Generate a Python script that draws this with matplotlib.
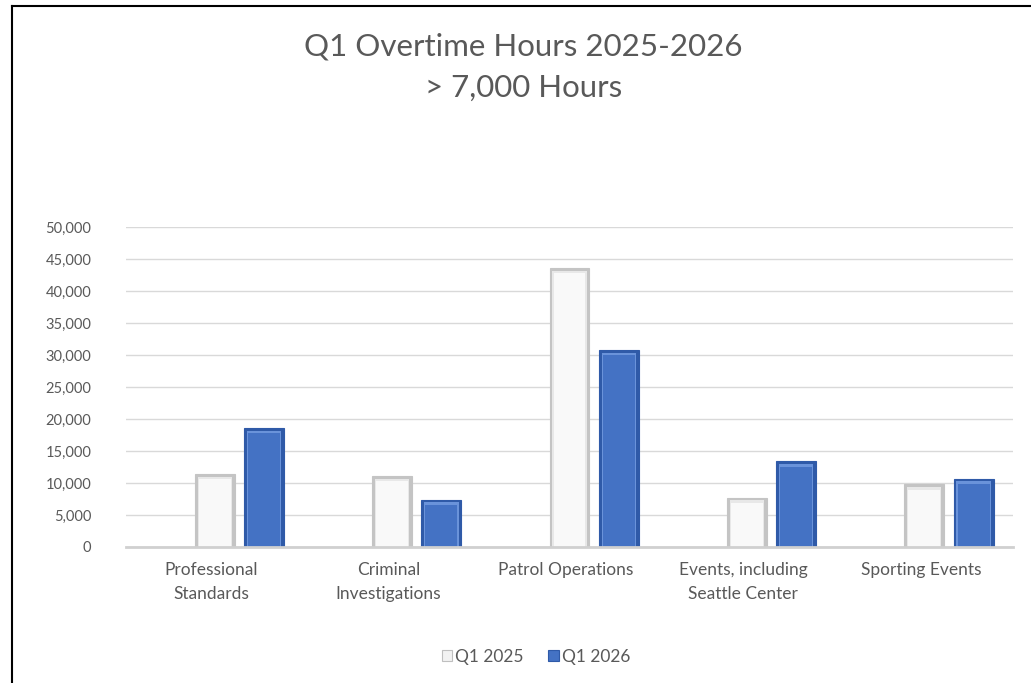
import numpy as np
import matplotlib.pyplot as plt
from matplotlib.lines import Line2D
from matplotlib.patches import Rectangle
import matplotlib.ticker as ticker

categories = ["Professional\nStandards", "Criminal\nInvestigations", "Patrol Operations",
              "Events, including\nSeattle Center", "Sporting Events"]
q1_2025 = [11400, 11100, 43600, 7700, 9800]
q1_2026 = [18600, 7400, 30800, 13400, 10700]
series_names = ["Q1 2025", "Q1 2026"]
title = "Q1 Overtime Hours 2025-2026\n> 7,000 Hours"

plt.rcParams['font.family'] = ['Lato', 'DejaVu Sans']
txt = "#595959"

fig = plt.figure(figsize=(10.31, 6.83), dpi=100)
ax = fig.add_axes([126/1031, 1 - 547/683, 887/1031, 320/683])

x = np.arange(len(categories))
w = 0.225
off = 0.278
bev = 420   # bevel depth in data units (~3 px)

def bevel_bars(xpos, vals, outer, inner, top):
    vals = np.asarray(vals)
    ax.bar(xpos, vals, width=w, color=outer, edgecolor=outer, lw=0.8, zorder=3)
    ax.bar(xpos, vals - bev, width=w * 0.86, color=top, lw=0, zorder=4)
    ax.bar(xpos, vals - 2 * bev, width=w * 0.80, color=inner, lw=0, zorder=5)

bevel_bars(x, q1_2025, "#c4c4c4", "#f9f9f9", "#e8e8e8")
bevel_bars(x + off, q1_2026, "#2f5aa8", "#4472c4", "#6a93da")

ax.set_xlim(-0.5, len(categories) - 0.5)
ax.set_ylim(0, 50000)
ax.yaxis.set_major_locator(ticker.MultipleLocator(5000))
ax.yaxis.set_major_formatter(ticker.FuncFormatter(lambda v, p: f"{int(v):,}"))
ax.grid(axis="y", color="#d9d9d9", lw=1.0, zorder=0)
ax.set_axisbelow(True)
for s in ["top", "right", "left"]:
    ax.spines[s].set_visible(False)
ax.spines["bottom"].set_color("#d0d0d0")
ax.spines["bottom"].set_linewidth(2.0)
ax.spines["bottom"].set_zorder(6)
ax.tick_params(axis="both", length=0, colors=txt)
ax.tick_params(axis="y", pad=25, labelsize=10.5)
ax.tick_params(axis="x", pad=11)
ax.set_xticks(x - 0.02)
ax.set_xticklabels(categories, fontsize=12.5, linespacing=1.6, color=txt)

fig.text(0.508, 1 - 67/683, title, ha="center", va="center", fontsize=22.5,
         color=txt, linespacing=1.55)

handles = [Rectangle((0, 0), 1, 1, fc="#f2f2f2", ec="#bfbfbf", lw=0.8),
           Rectangle((0, 0), 1, 1, fc="#4472c4", ec="#2f5aa8", lw=0.8)]
leg = fig.legend(handles, series_names, loc="center", ncol=2,
                 bbox_to_anchor=(536/1031, 1 - 657/683), frameon=False,
                 fontsize=12.5, handlelength=0.6, handleheight=0.6,
                 handletextpad=0.2, columnspacing=1.4)
for t in leg.get_texts():
    t.set_color(txt)

# chart border (left and top only visible in the crop)
fig.add_artist(Line2D([12/1031, 12/1031], [0, 1 - 6/683], color="black", lw=1.5))
fig.add_artist(Line2D([12/1031, 1], [1 - 6/683, 1 - 6/683], color="black", lw=1.5))

fig.savefig("out.png", dpi=100)
